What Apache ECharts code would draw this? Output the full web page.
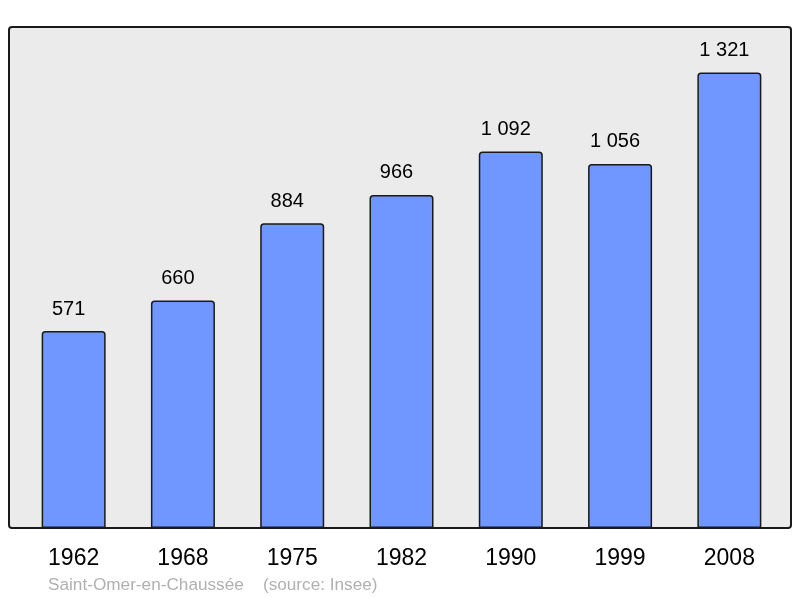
<!DOCTYPE html>
<html><head><meta charset="utf-8">
<script src="https://cdn.jsdelivr.net/npm/echarts@6/dist/echarts.min.js"></script>
<style>html,body{margin:0;padding:0;background:#fff}#c{width:800px;height:598px}</style>
</head><body><div id="c"></div>
<script>
var categories = ['1962','1968','1975','1982','1990','1999','2008'];
var population = [571, 660, 884, 966, 1092, 1056, 1321];
var sourceText = 'Saint-Omer-en-Chaussée    (source: Insee)';

function fmt(v){ return String(v).replace(/\B(?=(\d{3})+(?!\d))/g, ' '); }

var chart = echarts.init(document.getElementById('c'), null, {renderer:'canvas'});
chart.setOption({
  animation:false,
  graphic:[
    {type:'rect', z:-10, shape:{x:9, y:27, width:782, height:501, r:3},
     style:{fill:'#ebebeb', stroke:'none'}},
    {type:'rect', z:100, shape:{x:9, y:27, width:782, height:501, r:3},
     style:{fill:'none', stroke:'#1a1a1a', lineWidth:2}},
    {type:'text', x:48, y:577, style:{text:sourceText, fill:'#b0b0b0', fontSize:17.2, fontFamily:'Liberation Sans'}}
  ],
  grid:{left:19, right:16, top:27, bottom:70},
  xAxis:{type:'category', data:categories,
    axisLine:{show:false}, axisTick:{show:false},
    axisLabel:{fontSize:23, color:'#000', margin:19, fontFamily:'Liberation Sans'}},
  yAxis:{type:'value', min:0, max:1453, show:false, splitLine:{show:false}},
  series:[{type:'bar', data:population, barWidth:64,
    itemStyle:{color:'#7096ff', borderColor:'#1a1a1a', borderWidth:1.5, borderRadius:[3,3,0,0]},
    label:{show:true, position:'top', distance:12, offset:[-5,0], fontSize:20, color:'#000', fontFamily:'Liberation Sans',
      formatter:function(p){return fmt(p.value);}}
  }]
});
</script></body></html>
